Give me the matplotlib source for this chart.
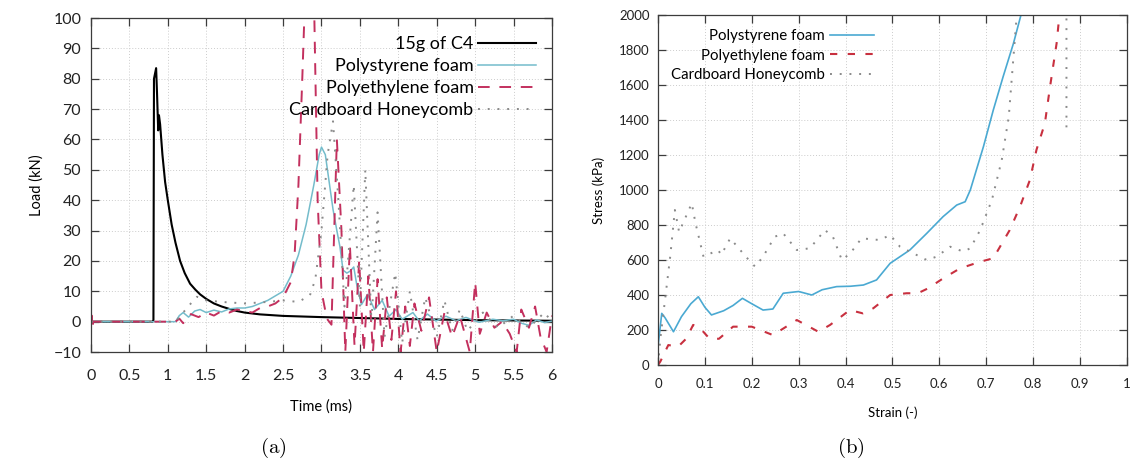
import numpy as np
import matplotlib
matplotlib.use("Agg")
import matplotlib.pyplot as plt

plt.rcParams['font.family'] = ['Lato', 'DejaVu Sans']
plt.rcParams['mathtext.fontset'] = 'cm'

# ---- (a) load vs time ----
c4_t = [0, 0.80, 0.813, 0.82, 0.848, 0.86, 0.875, 0.885, 0.9, 0.93, 0.965, 1.0, 1.05, 1.1,
        1.16, 1.22, 1.29, 1.36, 1.42, 1.5, 1.6, 1.7, 1.8, 1.9, 2.0, 2.2, 2.5, 3.0, 3.5,
        4.0, 4.5, 5.0, 5.5, 6.0]
c4_load = [0, 0, 0.5, 80, 83.5, 75, 63, 68, 65, 55, 46, 40, 32, 26,
           20, 16, 12.5, 10.5, 9, 7.5, 6, 5, 4.2, 3.5, 3.0, 2.4, 1.9, 1.5, 1.2,
           0.9, 0.7, 0.5, 0.4, 0.3]

ps_t = [0, 1.1, 1.15, 1.2, 1.27, 1.35, 1.42, 1.5, 1.6, 1.7, 1.8, 1.9, 2.0, 2.1, 2.2, 2.3,
        2.4, 2.5, 2.6, 2.7, 2.8, 2.9, 2.97, 3.0, 3.05, 3.1, 3.15, 3.2, 3.24, 3.28, 3.33,
        3.37, 3.42, 3.46, 3.52, 3.6, 3.69, 3.79, 3.88, 3.97, 4.05, 4.19, 4.27, 4.38, 4.49,
        4.62, 4.75, 4.88, 5.05, 5.23, 5.36, 5.5, 5.6, 5.7, 5.8, 5.9, 6.0]
ps_load = [0, 0, 2, 3, 1.5, 3.5, 4, 3, 3.8, 3.2, 4.2, 4.5, 4.5, 5, 6, 7,
           8.5, 10, 15, 22, 32, 45, 55, 57.5, 55, 46, 37, 30, 24.7, 17, 16,
           16.6, 18, 12, 5.6, 9, 4, 7, 1.8, 4, 0.8, 3, 0.3, 2.5, 0.2,
           1.8, 0.3, 1.4, -0.2, 0.8, 0.3, 0.8, -0.5, -1.2, 0.6, -0.3, 0.2]

pe_t = [0, 0.01, 0.02, 0.03, 1.1, 1.15, 1.2, 1.3, 1.4, 1.5, 1.6, 1.7, 1.8, 1.9, 2.0, 2.1,
        2.2, 2.3, 2.4, 2.5, 2.6, 2.65, 2.7, 2.75, 2.79, 2.9, 2.95, 3.0, 3.07, 3.13, 3.2,
        3.26, 3.31, 3.37, 3.43, 3.49, 3.55, 3.61, 3.67, 3.73, 3.79, 3.85, 3.91, 3.97, 4.03,
        4.09, 4.15, 4.21, 4.3, 4.4, 4.5, 4.6, 4.7, 4.8, 4.93, 5.0, 5.06, 5.15, 5.25, 5.35,
        5.45, 5.54, 5.6, 5.7, 5.78, 5.85, 5.93, 6.0]
pe_load = [0, 2, -2, 0, 0, 1, -0.5, 2.5, 1.5, 3, 2, 3.5, 3, 4, 3.5, 3,
           4.5, 5, 6, 8, 13, 22, 45, 80, 110, 110, 40, 10, 1, -1, 60,
           30, -10, 25, -8, 20, -10, 15, -10, 14, -9, 8, -6, 10, -10,
           5, -8, 6, -3, 8, -10, 3, -5, 2, -10, 13, -4, 3, -2, 0,
           -4, -10, 4, -2, 5, -5, -10, 2]

cb_t = [0, 1.1, 1.2, 1.3, 1.38, 1.5, 1.7, 2.0, 2.3, 2.5, 2.7, 2.85, 2.92, 3.0, 3.08, 3.15,
        3.22, 3.3, 3.42, 3.5, 3.57, 3.65, 3.73, 3.82, 3.96, 4.05, 4.15, 4.25, 4.35, 4.5,
        4.6, 4.7, 4.8, 4.9, 5.1, 5.3, 5.5, 5.7, 5.9, 6.0]
cb_load = [0, 0, 3, 6, 8.2, 7, 6.5, 6, 6.5, 7, 6.5, 8.7, 14, 30, 55, 66,
           40, 5, 45, 5, 50, 0, 36, -5, 16, -7, 10, -6, 8, -5,
           7, -3, 4, -3, 3, -2, 2, -2, 3, 0]

# ---- (b) stress vs strain ----
ps_strain = [0, 0.008, 0.015, 0.033, 0.05, 0.07, 0.086, 0.1, 0.114, 0.14, 0.16, 0.18, 0.2,
             0.224, 0.245, 0.267, 0.3, 0.328, 0.35, 0.381, 0.41, 0.438, 0.466, 0.495, 0.537,
             0.573, 0.608, 0.637, 0.655, 0.666, 0.694, 0.715, 0.736, 0.758, 0.774]
ps_stress = [105, 295, 270, 190, 276, 350, 390, 330, 286, 310, 340, 381, 350,
             314, 320, 410, 420, 400, 430, 448, 450, 457, 486, 581, 657,
             752, 848, 914, 933, 1000, 1248, 1457, 1648, 1838, 2000]

pe_strain = [0, 0.005, 0.022, 0.043, 0.06, 0.075, 0.09, 0.11, 0.13, 0.16, 0.2, 0.245, 0.296,
             0.342, 0.367, 0.409, 0.437, 0.459, 0.495, 0.53, 0.554, 0.576, 0.608, 0.644,
             0.687, 0.715, 0.75, 0.772, 0.793, 0.807, 0.825, 0.836, 0.85, 0.856]
pe_stress = [0, 20, 114, 105, 150, 229, 210, 150, 150, 219, 219, 171, 257,
             190, 229, 314, 295, 324, 400, 410, 410, 438, 495, 552,
             590, 610, 771, 905, 1057, 1229, 1381, 1590, 1838, 2000]

cb_strain = [0, 0.005, 0.026, 0.036, 0.045, 0.072, 0.08, 0.097, 0.128, 0.135, 0.154, 0.189,
             0.207, 0.224, 0.249, 0.267, 0.296, 0.324, 0.356, 0.373, 0.392, 0.41, 0.434,
             0.473, 0.495, 0.516, 0.537, 0.573, 0.594, 0.623, 0.651, 0.666, 0.687, 0.712,
             0.733, 0.748, 0.765, 0.78, 0.871, 0.871]
cb_stress = [0, 150, 619, 886, 760, 924, 810, 619, 657, 630, 724, 614,
             562, 619, 733, 752, 657, 667, 771, 733, 600, 638, 724,
             714, 743, 676, 648, 600, 619, 676, 648, 667, 771, 943,
             1171, 1419, 2000, 2400, 2400, 1343]

fig = plt.figure(figsize=(11.3, 4.7), dpi=100)
ax1 = fig.add_axes([0.0805, 0.251, 0.408, 0.7106])
ax2 = fig.add_axes([0.5823, 0.2234, 0.415, 0.7447])

grey = '#3c3c3c'
for ax in (ax1, ax2):
    ax.grid(True, linestyle=(0, (1, 2)), color='#cccccc', linewidth=0.7)
    ax.set_axisbelow(True)
    for s in ax.spines.values():
        s.set_color(grey)
        s.set_linewidth(0.9)
    ax.tick_params(direction='in', top=True, right=True, length=6, width=0.9,
                   color=grey, labelcolor='#222222')

ax1.plot(c4_t, c4_load, color='black', lw=1.5, label='15g of C4')
ax1.plot(ps_t, ps_load, color='#74bccb', lw=1.1, label='Polystyrene foam')
ax1.plot(pe_t, pe_load, color='#c3305e', lw=1.4, ls=(0, (6, 5)), label='Polyethylene foam')
ax1.plot(cb_t, cb_load, color='#8a8a8a', lw=1.4, ls=(0, (1, 4)), label='Cardboard Honeycomb')
ax1.set_xlim(0, 6)
ax1.set_ylim(-10, 100)
ax1.set_xticks(np.arange(0, 6.01, 0.5))
ax1.set_xticklabels(['0', '0.5', '1', '1.5', '2', '2.5', '3', '3.5', '4', '4.5', '5', '5.5', '6'])
ax1.set_yticks(np.arange(-10, 101, 10))
ax1.tick_params(axis='both', labelsize=11.5)
ax1.tick_params(axis='x', pad=12)
ax1.tick_params(axis='y', pad=7)
ax1.set_xlabel('Time (ms)', fontsize=10.5, labelpad=12)
ax1.set_ylabel('Load (kN)', fontsize=10.5, labelpad=7)
ax1.legend(loc='upper right', bbox_to_anchor=(0.965, 0.945), frameon=False, markerfirst=False,
           alignment='right', fontsize=13, handlelength=3.2, handletextpad=0.25,
           labelspacing=0.33, borderpad=0, borderaxespad=0)

ax2.plot(ps_strain, ps_stress, color='#4aa9d2', lw=1.2, label='Polystyrene foam')
ax2.plot(pe_strain, pe_stress, color='#c8303f', lw=1.5, ls=(0, (3.5, 5)), label='Polyethylene foam')
ax2.plot(cb_strain, cb_stress, color='#8a8a8a', lw=1.4, ls=(0, (1, 4)), label='Cardboard Honeycomb')
ax2.set_xlim(0, 1)
ax2.set_ylim(0, 2000)
ax2.set_xticks(np.arange(0, 1.01, 0.1))
ax2.set_xticklabels(['0', '0.1', '0.2', '0.3', '0.4', '0.5', '0.6', '0.7', '0.8', '0.9', '1'])
ax2.set_yticks(np.arange(0, 2001, 200))
ax2.tick_params(axis='both', labelsize=9.5)
ax2.tick_params(axis='x', pad=9)
ax2.tick_params(axis='y', pad=6)
ax2.set_xlabel('Strain (-)', fontsize=9.5, labelpad=12)
ax2.set_ylabel('Stress (kPa)', fontsize=9.5, labelpad=10)
ax2.legend(loc='upper right', bbox_to_anchor=(0.46, 0.96), frameon=False, markerfirst=False,
           alignment='right', fontsize=10.8, handlelength=2.9, handletextpad=0.35,
           labelspacing=0.38, borderpad=0, borderaxespad=0)

fig.text(273 / 1130, 1 - 448 / 470, r'$\mathrm{(a)}$', fontsize=15, ha='center', va='center')
fig.text(851 / 1130, 1 - 448 / 470, r'$\mathrm{(b)}$', fontsize=15, ha='center', va='center')

fig.savefig('out.png', dpi=100)
